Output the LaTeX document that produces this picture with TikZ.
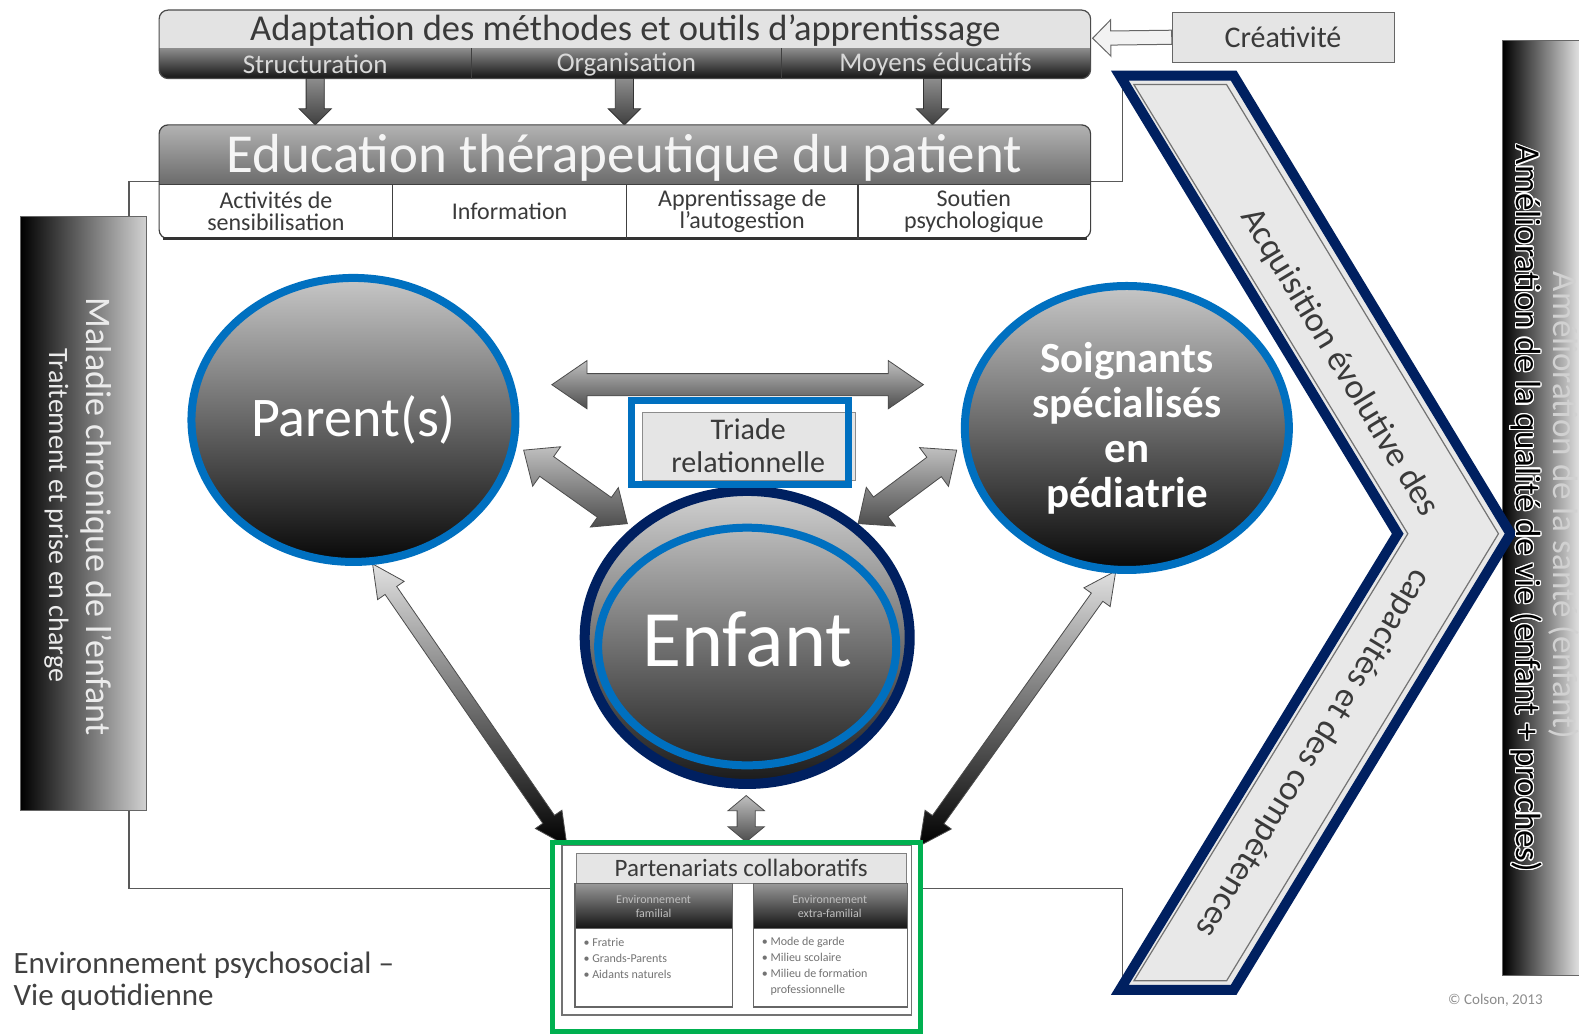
\documentclass[tikz,border=0pt]{standalone}
\usepackage{fontspec}
\setmainfont{Carlito}
\usepackage[copies]{contour}
\contourlength{1.2pt}
\usetikzlibrary{shapes.geometric,calc}
\definecolor{ringblue}{HTML}{0070C0}
\definecolor{navy}{HTML}{002060}
\definecolor{grn}{HTML}{00B050}
\definecolor{txtgrey}{HTML}{3A3A3A}
\newcommand\setfs[1]{\fontsize{#1}{#1}\selectfont}
% double block arrow: style, from, to, shaft half, head half, head length
\newcommand\dblarrow[6]{%
  \path let \p1=($(#3)-(#2)$) in \pgfextra{%
    \pgfmathparse{atan2(\y1,\x1)}\xdef\barang{\pgfmathresult}%
    \pgfmathparse{veclen(\x1,\y1)/1.007}\xdef\barlen{\pgfmathresult}};
  \begin{scope}[shift={(#2)},rotate=\barang]
    \path[#1] (0,0) -- (#6,#5) -- (#6,#4) -- (\barlen-#6,#4) -- (\barlen-#6,#5) -- (\barlen,0)
      -- (\barlen-#6,-#5) -- (\barlen-#6,-#4) -- (#6,-#4) -- (#6,-#5) -- cycle;
  \end{scope}}
% single block arrow
\newcommand\sglarrow[6]{%
  \path let \p1=($(#3)-(#2)$) in \pgfextra{%
    \pgfmathparse{atan2(\y1,\x1)}\xdef\barang{\pgfmathresult}%
    \pgfmathparse{veclen(\x1,\y1)/1.007}\xdef\barlen{\pgfmathresult}};
  \begin{scope}[shift={(#2)},rotate=\barang]
    \path[#1] (0,#4) -- (\barlen-#6,#4) -- (\barlen-#6,#5) -- (\barlen,0)
      -- (\barlen-#6,-#5) -- (\barlen-#6,-#4) -- (0,-#4) -- cycle;
  \end{scope}}
\tikzset{
  framel/.style={black!65, line width=1.3},
  garrow/.style={draw=black!70, line width=0.8, top color=black!25, bottom color=black!70},
  larrow/.style={draw=black!70, line width=0.8, top color=black!12, bottom color=black},
  downarrow/.style={draw=black!80, line width=0.8, top color=black!45, bottom color=black!75},
  hollowarrow/.style={draw=black!60, line width=1, fill=black!5},
  sphere/.style={ellipse, draw=ringblue, line width=8, top color=black!22, middle color=black!58,
    bottom color=black!97, minimum width=324, minimum height=284, text=white},
  celltxt/.style={text=txtgrey, align=center, font=\fontsize{24}{22}\selectfont},
  bartxt/.style={text=black!15, font=\setfs{27}},
  bullet/.style={text=black!55, align=left, anchor=west, font=\fontsize{12}{16}\selectfont},
}
\begin{document}
\begin{tikzpicture}[x=1.007pt,y=-1.007pt]
\useasboundingbox (0,0) rectangle (1568,1027);
\fill[white] (0,0) rectangle (1568,1027);

% ---------- frame lines (psychosocial environment)
\draw[framel] (160,180) -- (128,180) -- (128,882) -- (552,882);
\draw[framel] (1082,180) -- (1115,180) -- (1115,78);
\draw[framel] (912,882) -- (1115,882) -- (1115,985);

% ---------- right bar
\shade[left color=black, right color=black!12] (1492,40) rectangle (1568,968);
\draw[black!60] (1492,40) rectangle (1568,968);

% ---------- chevron
\fill[black!9] (1112,75) -- (1225,75) -- (1500,530) -- (1225,983) -- (1112,983) -- (1388,530) -- cycle;
\draw[black!55, line width=1.2, line join=miter] (1126,84) -- (1218,84) -- (1488,530) -- (1218,974) -- (1126,974) -- (1398,530) -- cycle;
\draw[navy, line width=10, line join=miter] (1112,75) -- (1225,75) -- (1500,530) -- (1225,983) -- (1112,983) -- (1388,530) -- cycle;
\node[rotate=-58.85, text=txtgrey, font=\setfs{35}] (acq) at (1330,360) {Acquisition évolutive des};
\node[rotate=-121.15, text=txtgrey, font=\setfs{35}] (capa) at (1304,748) {capacités et des compétences};

% right bar texts
\node[rotate=-90, text=black!18, font=\setfs{35}] (sante) at (1553,502) {Amélioration de la santé (enfant)};
\node[rotate=-90, text=black, font=\setfs{35}] (qualite) at (1515,505) {\contour{white}{Amélioration de la qualité de vie (enfant + proches)}};

% ---------- left bar
\shade[left color=black, right color=black!18] (20,215) rectangle (145,805);
\draw[black!60] (20,215) rectangle (145,805);
\node[rotate=-90, text=black!8, font=\setfs{36}] (maladie) at (96,513) {Maladie chronique de l’enfant};
\node[rotate=-90, text=black!8, font=\setfs{28}] (traitement) at (56,512) {Traitement et prise en charge};

% ---------- top bar
\begin{scope}
  \clip[rounded corners=9] (158,10) rectangle (1083,78);
  \fill[black!11] (158,10) rectangle (1083,48);
  \shade[top color=black!45, bottom color=black!92] (158,48) rectangle (1083,78);
\end{scope}
\draw[black!70, line width=1.2, rounded corners=9] (158,10) rectangle (1083,78);
\draw[black!75, line width=1] (468,48) -- (468,78) (776,48) -- (776,78);
\node[text=txtgrey, font=\setfs{36.5}] (adapt) at (621,31) {Adaptation des méthodes et outils d’apprentissage};
\node[bartxt] (struct) at (313,64) {Structuration};
\node[bartxt] (orga) at (622,64) {Organisation};
\node[bartxt] (moyens) at (929,64) {Moyens éducatifs};

% Créativité
\node[draw=black!60, fill=black!10, minimum width=222, minimum height=50, text=txtgrey, font=\setfs{30}] (crea) at (1274,37) {Créativité};
\coordinate (creaTip) at (1085,38);
\sglarrow{hollowarrow}{crea.west}{creaTip}{7}{18}{18}

% down arrows
\coordinate (d1s) at (313,78); \coordinate (d1e) at (313,124);
\coordinate (d2s) at (620,78); \coordinate (d2e) at (620,124);
\coordinate (d3s) at (926,78); \coordinate (d3e) at (926,124);
\sglarrow{downarrow}{d1s}{d1e}{9}{16}{16}
\sglarrow{downarrow}{d2s}{d2e}{9}{16}{16}
\sglarrow{downarrow}{d3s}{d3e}{9}{16}{16}

% ---------- ETP bar
\begin{scope}
  \clip[rounded corners=9] (158,124) rectangle (1083,237);
  \shade[top color=black!30, bottom color=black!58] (158,124) rectangle (1083,183);
  \fill[white] (158,183) rectangle (1083,237);
\end{scope}
\draw[black!75, line width=1.2, rounded corners=9] (158,124) rectangle (1083,237);
\draw[black!80, line width=3] (162,237) -- (1079,237);
\draw[black!75, line width=1.2] (158,183) -- (1083,183);
\draw[black!75, line width=1.2] (390,183) -- (390,237) (622,183) -- (622,237) (852,183) -- (852,237);
\node[text=black!4, font=\setfs{55}] (etp) at (620,157) {Education thérapeutique du patient};
\node[celltxt] (sensib) at (274,210) {Activités de\\sensibilisation};
\node[celltxt] (info) at (506,210) {Information};
\node[celltxt] (autog) at (737,210) {Apprentissage de\\l’autogestion};
\node[celltxt] (soutien) at (967,210) {Soutien\\psychologique};

% ---------- relational arrows
\coordinate (hL) at (548,382); \coordinate (hR) at (917,382);
\coordinate (pA) at (520,447); \coordinate (pB) at (623,520);
\coordinate (sA) at (950,447); \coordinate (sB) at (852,520);
\coordinate (pC) at (370,560); \coordinate (pD) at (563,840);
\coordinate (sC) at (1108,567); \coordinate (sD) at (913,840);
\coordinate (eA) at (741,790); \coordinate (eB) at (741,836);
\dblarrow{garrow}{hL}{hR}{11}{24}{35}
\dblarrow{garrow}{pA}{pB}{12}{24}{28}
\dblarrow{garrow}{sA}{sB}{12}{24}{28}
\dblarrow{larrow}{pC}{pD}{7}{16}{32}
\dblarrow{larrow}{sC}{sD}{7}{16}{32}
\dblarrow{garrow}{eA}{eB}{9}{18}{15}

% ---------- spheres
\node[sphere, font=\setfs{56}] (parent) at (351,417) {Parent(s)};
\node[sphere, align=center, font=\bfseries\fontsize{43}{45}\selectfont] (soignants) at (1119,425) {Soignants\\spécialisés\\en\\pédiatrie};
\node[ellipse, draw=navy, line width=10, top color=black!18, middle color=black!50, bottom color=black!90,
      minimum width=325, minimum height=293] (enfant) at (742,633) {};
\draw[ringblue, line width=8] (742,642) ellipse [x radius=148, y radius=118];
\node[text=white, font=\setfs{80}] (enfanttxt) at (742,635) {Enfant};

% ---------- triade
\node[draw=black!45, fill=black!10, minimum width=213, minimum height=68, text=txtgrey, align=center,
      font=\fontsize{30}{33}\selectfont] (triade) at (743,443) {Triade\\relationnelle};
\draw[ringblue, line width=7] (627,398) rectangle (843,481);

% ---------- partnerships
\fill[white] (549,837) rectangle (914,1024);
\draw[black!55, line width=1.5] (558,839) rectangle (905,1008);
\node[draw=black!50, fill=black!10, minimum width=330, minimum height=30, text=txtgrey,
      font=\setfs{25}] (parten) at (736,862) {Partenariats collaboratifs};
\shade[top color=black!40, bottom color=black!92] (571,877) rectangle (727,922);
\shade[top color=black!40, bottom color=black!92] (748,877) rectangle (901,922);
\draw[black!60, line width=1.2] (571,877) rectangle (727,1000) (571,922) -- (727,922);
\draw[black!60, line width=1.2] (748,877) rectangle (901,1000) (748,922) -- (901,922);
\node[text=black!25, align=center, font=\fontsize{12}{14}\selectfont] (envfam) at (649,900) {Environnement\\familial};
\node[text=black!25, align=center, font=\fontsize{12}{14}\selectfont] (envext) at (824,900) {Environnement\\extra-familial};
\node[bullet] (b1) at (576,952) {• Fratrie\\• Grands-Parents\\• Aidants naturels};
\node[bullet] (b2) at (753,960) {• Mode de garde\\• Milieu scolaire\\• Milieu de formation\\\phantom{• }professionnelle};
\draw[grn, line width=5] (549,837) rectangle (914,1024);

% ---------- captions
\node[anchor=west, align=left, text=black!75, font=\fontsize{31}{32}\selectfont] (envpsy) at (10,974) {Environnement psychosocial –\\Vie quotidienne};
\node[text=black!45, font=\setfs{15}] (copy) at (1485,993) {© Colson, 2013};
\end{tikzpicture}
\end{document}
